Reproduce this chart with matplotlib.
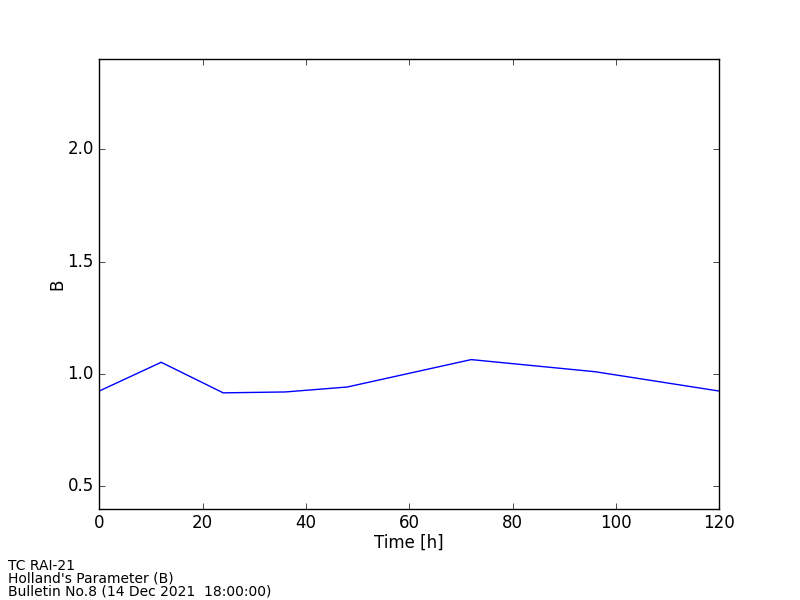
import matplotlib
matplotlib.use('Agg')
import matplotlib.pyplot as plt

plt.style.use('classic')

hours = [0, 12, 24, 36, 48, 72, 96, 120]
b_param = [0.924, 1.052, 0.916, 0.920, 0.942, 1.064, 1.010, 0.924]

fig = plt.figure(figsize=(8, 6), dpi=100)
fig.subplots_adjust(left=0.124, right=0.899, bottom=0.152, top=0.901)
ax = fig.add_subplot(111)
ax.plot(hours, b_param, color='blue', linewidth=1)
ax.set_xlim(0, 120)
ax.set_ylim(0.4, 2.4)
ax.set_yticks([0.5, 1.0, 1.5, 2.0])
ax.set_xlabel('Time [h]', labelpad=1)
ax.set_ylabel('B', labelpad=1)

fig.text(0.01, 0.003, "TC RAI-21\nHolland's Parameter (B)\nBulletin No.8 (14 Dec 2021  18:00:00)",
         fontsize=10, ha='left', va='bottom', linespacing=0.88)

fig.savefig('out.png', dpi=100, facecolor='white')
